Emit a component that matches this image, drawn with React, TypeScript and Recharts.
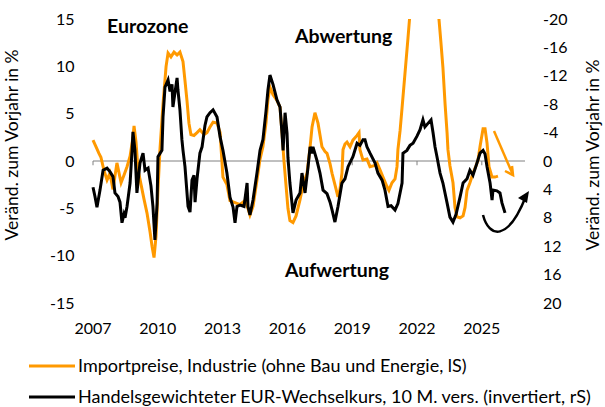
import React from 'react';
import { LineChart, Line, XAxis, YAxis, ReferenceLine } from 'recharts';

// months since Jan 2007
const importT = [0, 1.7, 3.3, 4.4, 6.1, 7.8, 9.4, 11.1, 13.3, 15.6, 17.2, 18.9, 20.6, 22.2, 22.8, 23.9, 25, 26.7, 28.3, 30, 31.7, 32.8, 33.9, 35, 36.1, 37.2, 38.9, 40.6, 41.7, 43.3, 45, 46.7, 48.3, 50, 51.1, 52.2, 53.3, 54.4, 56.1, 57.8, 59.4, 61.7, 63.3, 65, 66.7, 68.9, 70.6, 72.2, 74.4, 76.1, 78.9, 81.7, 84.4, 86.1, 87.2, 88.9, 91.1, 92.8, 94.4, 96.1, 97.2, 98.3, 100, 102.2, 103.9, 105, 106.1, 107.2, 108.3, 109.4, 111.1, 112.8, 115, 116.7, 118.9, 120.6, 121.7, 123.3, 125, 127.2, 128.9, 130, 131.7, 132.8, 134.4, 136.1, 137.2, 138.3, 138.9, 140, 141.1, 142.8, 144.4, 146.7, 147.8, 148.3, 150, 152.2, 153.9, 156.1, 157.8, 159.4, 161.1, 163.3, 164.4, 166.1, 167.8, 168.9, 169.4, 170.6, 171.7, 173.3, 175, 176.7, 178.9, 181.1, 183.3, 185.6, 187.8, 190, 192.2, 193.3, 194.4, 195.6, 196.7, 197.2, 198.3, 200, 201.1, 202.2, 203.9, 205.6, 206.7, 207.8, 209.4, 211.1, 212.8, 213.9, 215, 215.6, 216.7, 217.8, 218.9, 220, 221.7, 223.3, 225];
const importV = [2.2, 1.5, 0.8, 0.4, -1.0, -2.0, -1.3, -3.0, -0.2, -2.3, -1.5, -0.6, 0.5, 2.5, 3.7, 2.0, -0.9, -2.5, -4.0, -5.5, -7.5, -9, -10.2, -8, -3, 1.2, 6, 10, 11.4, 11.0, 11.5, 11.2, 11.5, 10.5, 8.5, 6.4, 4, 2.8, 2.7, 3.0, 3.3, 2.8, 3.0, 3.6, 4.1, 4.0, 3.0, -1.7, -2.5, -4.2, -4.4, -4.6, -4.2, -5.0, -5.7, -4.8, -2.0, 0.2, 1.5, 4, 6.5, 7.8, 7.0, 6.4, 5.7, 3.0, 0, -2.5, -5, -6.3, -6.5, -5.8, -4.1, -2.5, -1.3, 1.5, 3.6, 5.1, 4.0, 1.5, 1.0, 0.8, -0.3, -1.3, -2.5, -3.8, -3.0, -1.3, 1.2, 1.8, 2.0, 1.5, 2.2, 2.7, 3.0, 1.2, 0.1, 0.2, -0.6, -0.5, -0.2, -0.9, -1.7, -2.7, -3.1, -2.3, -1.9, -0.6, 1.2, 3.2, 5.6, 9.2, 13, 17, 22, 26, 28, 27, 24, 19.5, 15, 12.5, 9.9, 6, 3.0, 1.2, -0.5, -2.3, -4.9, -5.9, -6.0, -5.8, -4.9, -3.1, -2.3, -1.3, -0.5, 0.1, 1.5, 2.2, 3.4, 3.4, 1.9, -0.6, -1.7, -1.7, -1.6];

const fxT = [0, 1.1, 2.2, 3.9, 5.6, 7.8, 9.4, 11.1, 12.2, 13.9, 15, 16.1, 17.2, 17.8, 18.9, 20.6, 21.7, 22.2, 23.3, 24.4, 26.1, 27.8, 28.9, 30.6, 32.2, 33.3, 34.4, 35.6, 36.1, 38.3, 38.9, 40, 41.7, 42.8, 43.9, 44.4, 46.7, 47.2, 48.3, 49.4, 50, 51.1, 52.8, 53.9, 55, 56.1, 56.7, 57.8, 59.4, 60.6, 62.2, 63.3, 65, 66.7, 68.9, 70.6, 72.2, 74.4, 76.1, 77.8, 78.9, 80, 81.7, 83.9, 85.6, 86.1, 87.2, 88.9, 91.1, 92.8, 94.4, 96.1, 97.2, 98.3, 100, 102.2, 103.9, 105, 105.6, 106.7, 107.8, 108.3, 109.4, 111.1, 112.8, 115, 116.1, 117.8, 119.4, 120.6, 121.7, 122.2, 124.4, 126.1, 127.8, 130, 131.7, 132.8, 134.4, 136.1, 138.3, 140, 141.7, 144.4, 146.7, 148.3, 150, 151.1, 152.2, 153.9, 156.7, 158.3, 160.6, 162.2, 163.9, 165.6, 167.8, 169.4, 171.7, 172.2, 174.4, 176.1, 177.8, 180, 181.7, 183.3, 184.4, 186.1, 187.8, 188.9, 190, 191.1, 192.8, 194.4, 196.7, 198.3, 200, 201.7, 203.9, 205.6, 207.8, 209.4, 211.1, 213.3, 215, 216.7, 217.8, 218.9, 220.6, 221.7, 222.2, 224.4, 226.1, 227.2, 228.9];
const fxV = [3.7, 5.0, 6.5, 4.1, 1.3, 1.0, 1.5, 2.2, 4.5, 5.0, 5.8, 8.7, 7.5, 8.0, 6.4, 3.1, -1.5, -4.1, -1.5, 4.5, 0.3, -1.1, 1.3, 1.0, 3.5, 6.4, 11.1, 6, -0.6, -1.5, -6.2, -10.4, -11.4, -9.8, -10.8, -7.6, -11.7, -10, -7.2, -3.0, -1.5, 0.8, 6.4, 7.2, 2.7, 2.0, 5.8, 2.5, -1.1, -2.0, -5, -6.2, -6.8, -7.2, -6.2, -3.4, -1.5, 1.7, 5.1, 6.5, 8.7, 6.4, 6.2, 6.4, 3.1, 6.4, 7.6, 5.5, 1.7, -1.5, -3.0, -7, -10, -12.1, -10.8, -8.6, -7.6, -3.9, -1.5, -6.8, -3.9, -0.5, 3.1, 7.3, 5.5, 4.5, 1.7, 4.5, 1.0, -2.0, -1.1, -2.0, -0.1, 1.7, 4.1, 4.6, 5.8, 6.9, 8.6, 6.4, 3.1, 2.5, 0.8, -0.6, -2.5, -2.2, -3.0, -3.0, -2.0, -1.1, 0.3, 1.7, 2.7, 4.1, 6.4, 6.3, 6.9, 6.0, 3.1, -1.1, -1.5, -2.2, -2.5, -3.5, -4.4, -5.8, -4.8, -5.3, -5.8, -4.0, -2.0, -0.6, 1.7, 3.1, 5.9, 7.9, 8.6, 7.5, 5.1, 3.1, 2.5, 1.3, 2.0, 0.3, -1.1, -1.5, -1.0, 0.8, 3.1, 5.5, 4.1, 4.2, 4.5, 5.9, 7.3];

const xLabels = ['2007', '2010', '2013', '2016', '2019', '2022', '2025'];
const axisTickMonths = [0, 36, 72, 108, 144, 180, 216];
const leftTicks = [-15, -10, -5, 0, 5, 10, 15];
const rightTicks = [-20, -16, -12, -8, -4, 0, 4, 8, 12, 16, 20];

const importData = importT.map((t, i) => ({ t, v: importV[i] }));
const fxData = fxT.map((t, i) => ({ t, v: fxV[i] }));

const FONT = 'Lato, "Noto Sans", sans-serif';
const ORANGE = '#FF9900';

export default function App() {
  const tickStyle = { fontSize: 16, fill: '#000', fontFamily: FONT };
  return (
    <div style={{ position: 'absolute', left: 0, top: 0, width: 605, height: 407, background: '#fff' }}>
      <LineChart width={605} height={407} margin={{ top: 19, right: 0, bottom: 74, left: 0 }}>
        <XAxis
          type="number"
          dataKey="t"
          domain={[-8, 240]}
          allowDataOverflow
          ticks={axisTickMonths}
          interval={0}
          tickFormatter={(v) => xLabels[axisTickMonths.indexOf(v)]}
          axisLine={false}
          tickLine={false}
          tickSize={0}
          tickMargin={20}
          height={30}
          tick={tickStyle}
        />
        <YAxis
          yAxisId="left"
          type="number"
          domain={[-15, 15]}
          ticks={leftTicks}
          allowDataOverflow
          axisLine={false}
          tickLine={false}
          tickSize={0}
          tickMargin={4}
          width={78.6}
          tick={tickStyle}
          interval={0}
        />
        <YAxis
          yAxisId="right"
          orientation="right"
          type="number"
          domain={[-20, 20]}
          ticks={rightTicks}
          reversed
          allowDataOverflow
          axisLine={false}
          tickLine={false}
          tickSize={0}
          tickMargin={18}
          width={80}
          tick={{ ...tickStyle, textAnchor: 'start' }}
          interval={0}
        />
        <ReferenceLine
          yAxisId="left"
          segment={[{ x: 0, y: 0 }, { x: 240, y: 0 }]}
          stroke="#808080"
          strokeWidth={1}
          ifOverflow="visible"
        />
        {axisTickMonths.map((m) => (
          <ReferenceLine
            key={m}
            yAxisId="left"
            segment={[{ x: m, y: 0 }, { x: m, y: -0.45 }]}
            stroke="#808080"
            strokeWidth={1}
            ifOverflow="visible"
          />
        ))}
        <Line
          yAxisId="left"
          data={importData}
          dataKey="v"
          type="linear"
          stroke={ORANGE}
          strokeWidth={3}
          dot={false}
          isAnimationActive={false}
        />
        <Line
          yAxisId="right"
          data={fxData}
          dataKey="v"
          type="linear"
          stroke="#000"
          strokeWidth={3}
          dot={false}
          isAnimationActive={false}
        />
      </LineChart>
      <svg
        width={605}
        height={407}
        style={{ position: 'absolute', left: 0, top: 0, pointerEvents: 'none' }}
        fontFamily={FONT}
      >
        <text x={107} y={33} fontSize={19.5} fontWeight="bold" fill="#000">Eurozone</text>
        <text x={295} y={43} fontSize={19.5} fontWeight="bold" fill="#000">Abwertung</text>
        <text x={285} y={277} fontSize={19.5} fontWeight="bold" fill="#000">Aufwertung</text>
        <text
          x={0}
          y={0}
          fontSize={17.5}
          fill="#000"
          textAnchor="middle"
          transform="translate(18,145) rotate(-90)"
        >
          Veränd. zum Vorjahr in %
        </text>
        <text
          x={0}
          y={0}
          fontSize={17.5}
          fill="#000"
          textAnchor="middle"
          transform="translate(599,155) rotate(-90)"
        >
          Veränd. zum Vorjahr in %
        </text>
        {/* orange arrow */}
        <line x1={494} y1={131} x2={513} y2={175} stroke={ORANGE} strokeWidth={2.5} />
        <polyline points="505,171 513,175 512,166" fill="none" stroke={ORANGE} strokeWidth={2.5} />
        {/* black curved arrow */}
        <path d="M483,215 C489,238 508,242 526,196" fill="none" stroke="#000" strokeWidth={2.5} />
        <polygon points="529,191 518,198 527,203" fill="#000" />
        {/* legend */}
        <line x1={29} y1={366} x2={75} y2={366} stroke={ORANGE} strokeWidth={3} />
        <text x={78} y={372} fontSize={18} fill="#000">Importpreise, Industrie (ohne Bau und Energie, lS)</text>
        <line x1={29} y1={397} x2={75} y2={397} stroke="#000" strokeWidth={3} />
        <text x={78} y={403} fontSize={18} fill="#000">Handelsgewichteter EUR-Wechselkurs, 10 M. vers. (invertiert, rS)</text>
      </svg>
    </div>
  );
}
